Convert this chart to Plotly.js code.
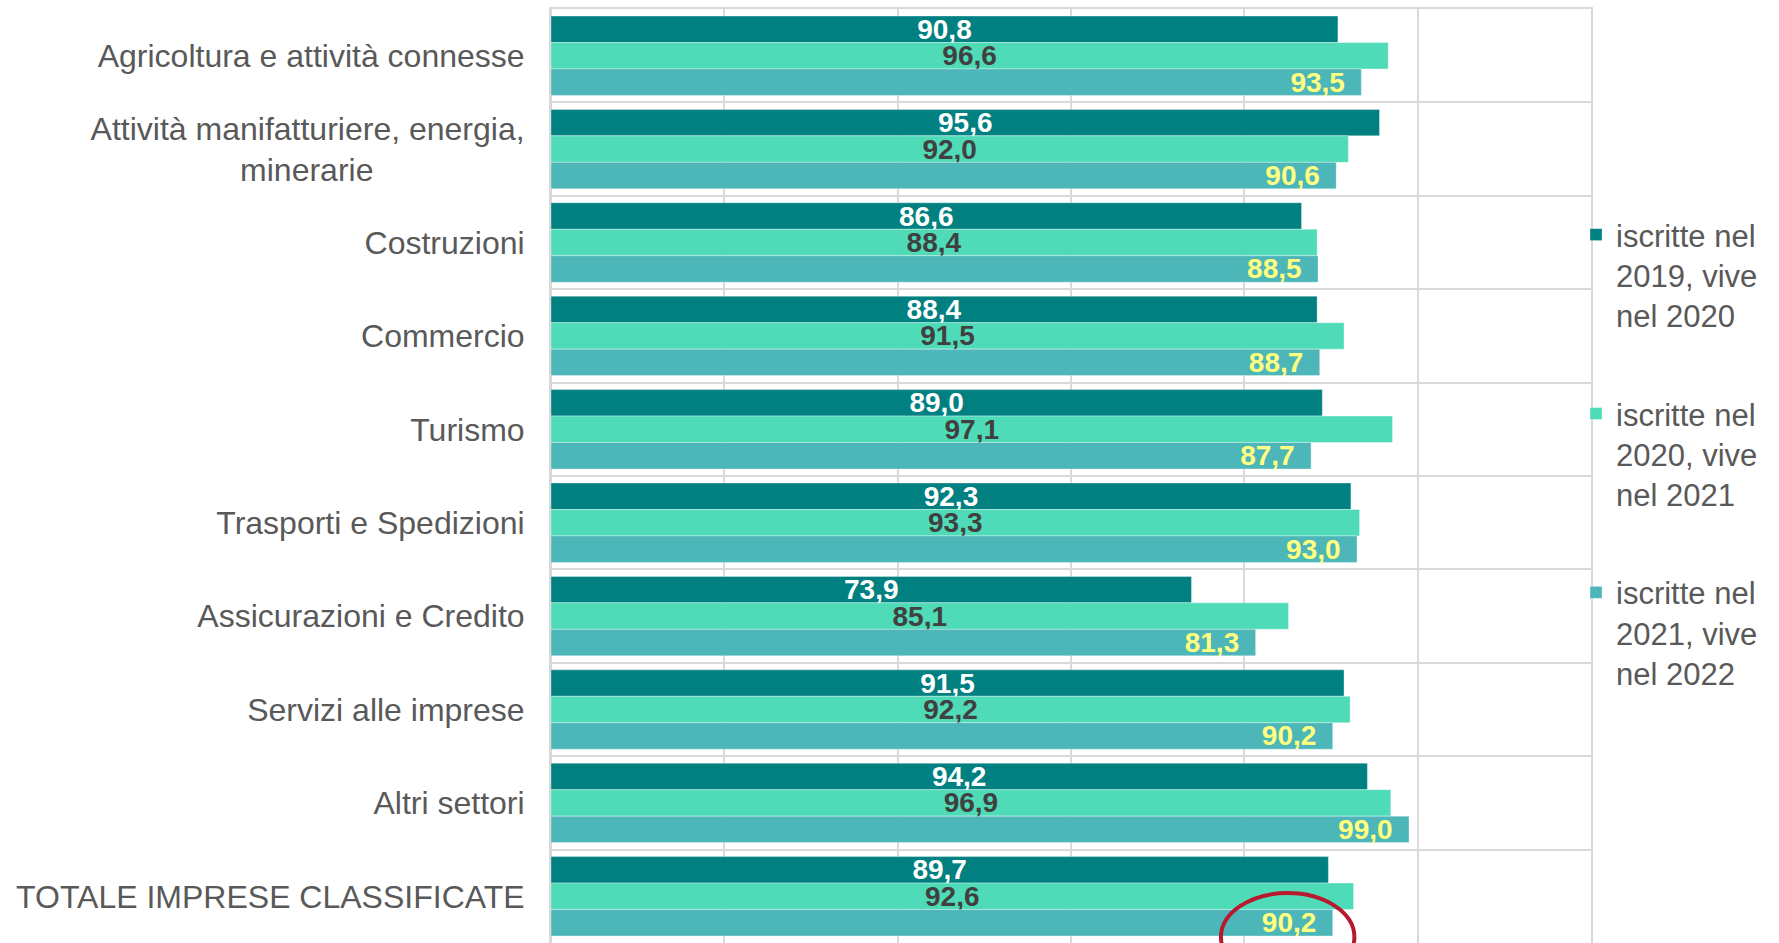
<!DOCTYPE html>
<html>
<head>
<meta charset="utf-8">
<script src="https://cdn.plot.ly/plotly-3.0.1.min.js"></script>
<style>
html,body{margin:0;padding:0;background:#fff;}
#chart{width:1779px;height:943px;}
</style>
</head>
<body>
<div id="chart"></div>
<script>
var categories = [
  "Agricoltura e attività connesse",
  "Attività manifatturiere, energia, minerarie",
  "Costruzioni",
  "Commercio",
  "Turismo",
  "Trasporti e Spedizioni",
  "Assicurazioni e Credito",
  "Servizi alle imprese",
  "Altri settori",
  "TOTALE IMPRESE CLASSIFICATE"
];
var NB = "\u00a0";
var tickLabels = [
  "Agricoltura e attività connesse",
  "Attività manifatturiere, energia,<br>minerarie" + NB.repeat(17),
  "Costruzioni",
  "Commercio",
  "Turismo",
  "Trasporti e Spedizioni",
  "Assicurazioni e Credito",
  "Servizi alle imprese",
  "Altri settori",
  "TOTALE IMPRESE CLASSIFICATE"
];
var seriesNames = [
  "iscritte nel<br>2019, vive<br>nel 2020",
  "iscritte nel<br>2020, vive<br>nel 2021",
  "iscritte nel<br>2021, vive<br>nel 2022"
];
var vive2020 = [90.8, 95.6, 86.6, 88.4, 89.0, 92.3, 73.9, 91.5, 94.2, 89.7];
var vive2021 = [96.6, 92.0, 88.4, 91.5, 97.1, 93.3, 85.1, 92.2, 96.9, 92.6];
var vive2022 = [93.5, 90.6, 88.5, 88.7, 87.7, 93.0, 81.3, 90.2, 99.0, 90.2];

var colors = ["#008080", "#4FDBB8", "#4DB6B8"];
var labelColors = ["#FFFFFF", "#404040", "#FFFF80"];
var FONT = "Liberation Sans, Arial, sans-serif";

function mk(i, vals, anchor, tmpl) {
  return {
    type: "bar",
    orientation: "h",
    name: seriesNames[i],
    legendgroup: "g" + i,
    y: categories,
    x: vals,
    marker: {color: colors[i], line: {color: "rgba(255,255,255,0.35)", width: 1}},
    texttemplate: tmpl,
    textposition: "inside",
    insidetextanchor: anchor,
    constraintext: "none",
    cliponaxis: false,
    textangle: 0,
    textfont: {family: FONT, size: 28, color: labelColors[i], weight: "bold"},
    hoverinfo: "skip"
  };
}

var data = [
  mk(0, vive2020, "middle", "%{x:.1f}"),
  mk(1, vive2021, "middle", "%{x:.1f}"),
  mk(2, vive2022, "end", "%{x:.1f}\u00a0\u2009")
];

var layout = {
  width: 1779,
  height: 943,
  margin: {l: 551, r: 188, t: 9, b: 0, pad: 0},
  paper_bgcolor: "#ffffff",
  plot_bgcolor: "#ffffff",
  separators: ",.",
  barmode: "group",
  bargap: 0.15,
  bargroupgap: 0,
  font: {family: FONT, color: "#595959"},
  xaxis: {
    range: [0, 120],
    dtick: 20,
    tick0: 0,
    showgrid: true,
    gridcolor: "#D9D9D9",
    gridwidth: 2,
    zeroline: true,
    zerolinecolor: "#D9D9D9",
    zerolinewidth: 2,
    showline: true,
    linecolor: "#D9D9D9",
    linewidth: 2,
    mirror: true,
    showticklabels: false,
    ticks: "",
    fixedrange: true
  },
  yaxis: {
    type: "category",
    range: [9.5, -0.5],
    autorange: false,
    tickmode: "array",
    tickvals: categories,
    ticktext: tickLabels,
    tickson: "boundaries",
    showgrid: true,
    gridcolor: "#D9D9D9",
    gridwidth: 2,
    showline: true,
    linecolor: "#D9D9D9",
    linewidth: 2,
    mirror: true,
    ticks: "",
    ticklabelstandoff: 18,
    tickfont: {family: FONT, size: 32, color: "#595959"},
    fixedrange: true
  },
  showlegend: true,
  legend: {
    x: 0.9856,
    xanchor: "left",
    y: 0.787,
    yanchor: "top",
    traceorder: "grouped",
    tracegroupgap: 55,
    valign: "top",
    bgcolor: "rgba(0,0,0,0)",
    borderwidth: 0,
    font: {family: FONT, size: 31, color: "#595959"}
  },
  shapes: [{
    type: "circle",
    xref: "x",
    yref: "y",
    x0: 77.3,
    x1: 92.7,
    y0: 8.965,
    y1: 9.907,
    line: {color: "#B8192E", width: 4},
    fillcolor: "rgba(0,0,0,0)",
    layer: "above"
  }]
};

Plotly.newPlot("chart", data, layout, {displayModeBar: false, staticPlot: true});
</script>
</body>
</html>
